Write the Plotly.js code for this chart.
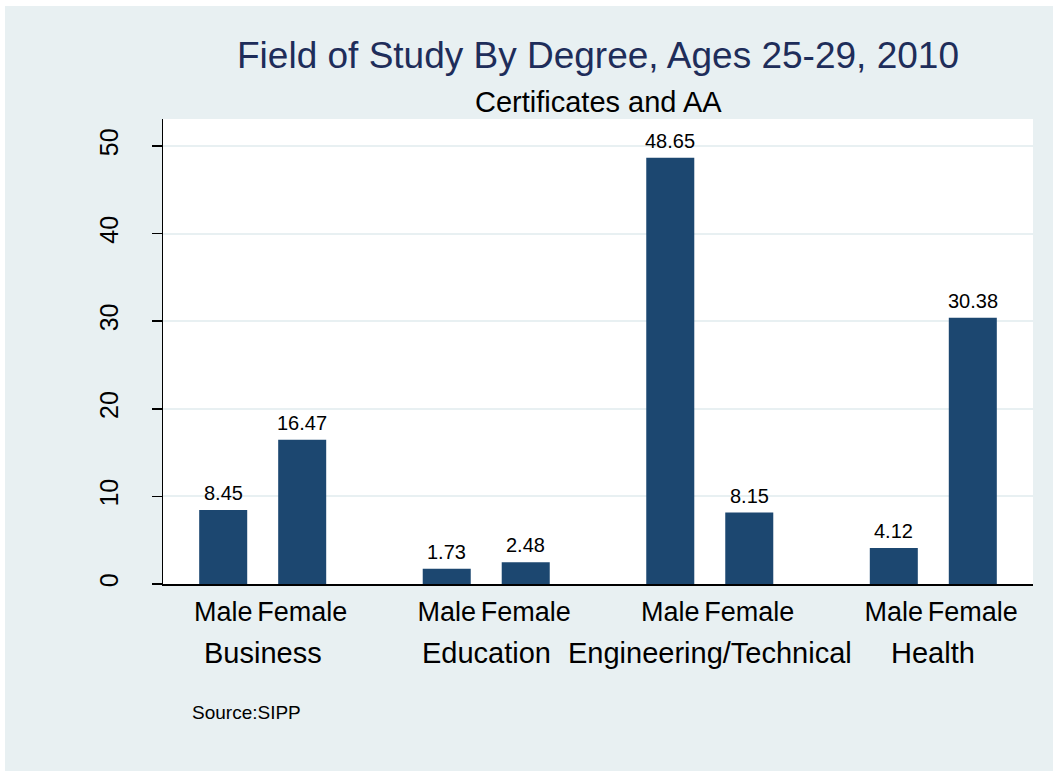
<!DOCTYPE html>
<html>
<head>
<meta charset="utf-8">
<script src="https://cdn.plot.ly/plotly-3.0.1.min.js"></script>
<style>html,body{margin:0;padding:0;background:#fff;}#chart{width:1053px;height:771px;}</style>
</head>
<body>
<div id="chart"></div>
<script>
const fields = ['Business', 'Education', 'Engineering/Technical', 'Health'];
const sexes = ['Male', 'Female'];
const male = [8.45, 1.73, 48.65, 4.12];
const female = [16.47, 2.48, 8.15, 30.38];
const yTicks = [0, 10, 20, 30, 40, 50];
const titleText = 'Field of Study By Degree, Ages 25-29, 2010';
const subtitleText = 'Certificates and AA';
const sourceText = 'Source:SIPP';

const OFF = 0.1767, BW = 0.2148;
const BAR = '#1c4770', BG = '#e8f0f2', FONT = 'Liberation Sans, Arial, sans-serif';

const xMale = fields.map((f, i) => i - OFF);
const xFemale = fields.map((f, i) => i + OFF);

const traces = [
  {type: 'bar', name: sexes[0], x: xMale, y: male, width: BW, marker: {color: BAR, line: {width: 0}}, hoverinfo: 'y'},
  {type: 'bar', name: sexes[1], x: xFemale, y: female, width: BW, marker: {color: BAR, line: {width: 0}}, hoverinfo: 'y'}
];

const tickvals = [], ticktext = [];
fields.forEach((f, i) => { tickvals.push(xMale[i], xFemale[i]); ticktext.push(sexes[0], sexes[1]); });

const annotations = [];
[[xMale, male], [xFemale, female]].forEach(([xs, ys]) => {
  xs.forEach((x, i) => annotations.push({
    x: x, y: ys[i], xref: 'x', yref: 'y', text: ys[i].toFixed(2), showarrow: false,
    yanchor: 'bottom', yshift: 4, font: {family: FONT, size: 20, color: '#000'}
  }));
});
fields.forEach((f, i) => annotations.push({
  x: i, y: -0.1484, xref: 'x', yref: 'paper', text: f, showarrow: false,
  yanchor: 'middle', font: {family: FONT, size: 29, color: '#000'}
}));
annotations.push({x: 0.5, y: 1.0366, xref: 'paper', yref: 'paper', text: subtitleText, showarrow: false,
  yanchor: 'middle', font: {family: FONT, size: 29, color: '#000'}});
annotations.push({x: 0.031, y: -0.2753, xref: 'paper', yref: 'paper', text: sourceText, showarrow: false,
  xanchor: 'left', yanchor: 'middle', font: {family: FONT, size: 19, color: '#000'}});

const layout = {
  width: 1053, height: 771,
  margin: {l: 163, r: 20, t: 119, b: 187, pad: 0},
  paper_bgcolor: BG, plot_bgcolor: '#ffffff',
  showlegend: false, barmode: 'overlay',
  font: {family: FONT, color: '#000'},
  title: {text: titleText, x: 0.5, xref: 'paper', xanchor: 'center', y: 1 - 55 / 771, yref: 'container', yanchor: 'middle',
    font: {family: FONT, size: 37, color: '#1e2d5a'}},
  xaxis: {range: [-0.446, 3.446], tickmode: 'array', tickvals: tickvals, ticktext: ticktext,
    showgrid: false, zeroline: false, showline: true, linecolor: '#000', linewidth: 1.5,
    ticks: '', ticklabelstandoff: 3, tickfont: {family: FONT, size: 27, color: '#000'}, fixedrange: true},
  yaxis: {range: [0, 53.08], tickmode: 'array', tickvals: yTicks, ticktext: yTicks.map(String),
    showgrid: true, gridcolor: BG, gridwidth: 2, zeroline: false, showline: true, linecolor: '#000', linewidth: 1.5,
    ticks: 'outside', ticklen: 10, tickcolor: '#000', tickwidth: 1.5, tickangle: -90, ticklabelstandoff: 24,
    tickfont: {family: FONT, size: 25, color: '#000'}, fixedrange: true},
  annotations: annotations,
  shapes: [
    {type: 'rect', xref: 'paper', yref: 'paper', x0: -0.1874, x1: 1.023, y0: 1.2430, y1: 1.2559, fillcolor: '#fff', line: {width: 0}, layer: 'above'},
    {type: 'rect', xref: 'paper', yref: 'paper', x0: -0.1874, x1: -0.18161, y0: -0.4022, y1: 1.2559, fillcolor: '#fff', line: {width: 0}, layer: 'above'}
  ]
};

Plotly.newPlot('chart', traces, layout, {displayModeBar: false, staticPlot: true});
</script>
</body>
</html>
